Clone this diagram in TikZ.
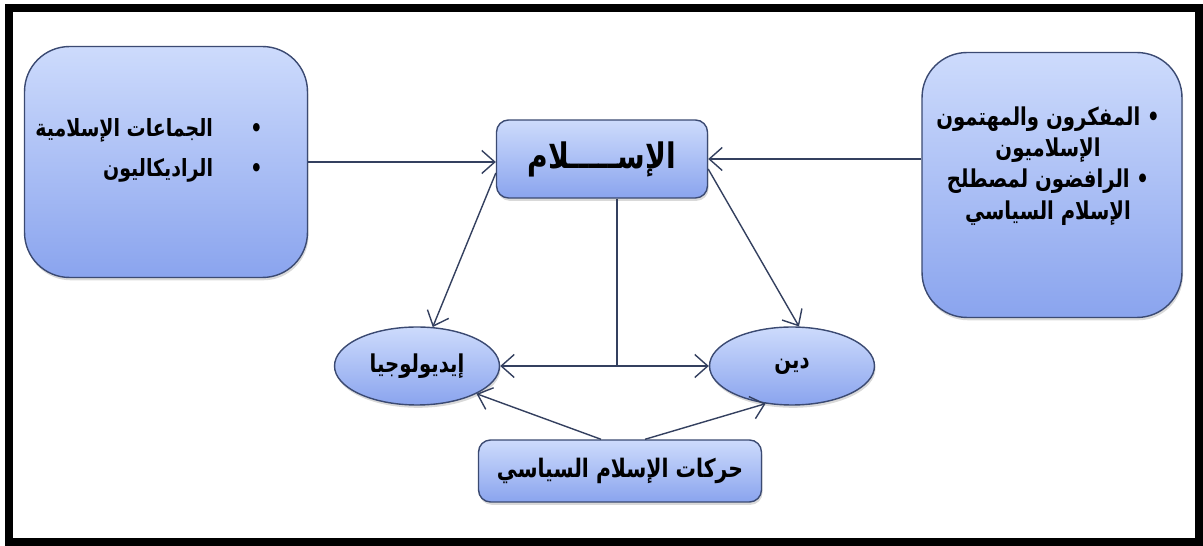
\documentclass[tikz,border=0pt]{standalone}
\usepackage{fontspec}
\usetikzlibrary{shapes.geometric,arrows.meta,shadows}
\newfontfamily\arabicfont[Script=Arabic,FakeStretch=0.8]{DejaVu Sans Bold}
\TeXXeTstate=1
\newcommand\artext[1]{\beginR#1\endR}
\definecolor{edgeblue}{HTML}{3B4A72}
\definecolor{lineblue}{HTML}{34405F}
\definecolor{toplight}{HTML}{CDDBFC}
\definecolor{botdark}{HTML}{8AA4EE}

\begin{document}
\begin{tikzpicture}[x=0.02cm,y=-0.02cm,
  >={Straight Barb[length=2.6mm,width=4.6mm]},
  shade/.style={draw=edgeblue,thick,top color=toplight,bottom color=botdark,
    drop shadow={opacity=0.3,shadow xshift=0.6pt,shadow yshift=-1.6pt}},
  bigbox/.style={shade,rectangle,rounded corners=0.9cm,minimum width=5.4cm},
  smallbox/.style={shade,rectangle,rounded corners=0.24cm},
  oval/.style={shade,ellipse,inner sep=0pt,minimum width=3.3cm,minimum height=1.56cm,
    font=\arabicfont\fontsize{14}{18}\selectfont},
  words/.style={inner sep=0pt},
  link/.style={lineblue,thick}]
\useasboundingbox (0,0) rectangle (1203,546);
\draw[line width=0.16cm] (9,8.5) rectangle (1199,542);

\node[bigbox,minimum width=5.66cm,minimum height=4.62cm] (groups) at (166,162) {};
\node[words,anchor=east,align=right,font=\arabicfont\fontsize{13.5}{17}\selectfont]
  (groupstext) at (263,150)
  {\artext{\textbullet\hspace{0.75cm}الجماعات الإسلامية}\\[0.2cm]
   \artext{\textbullet\hspace{0.75cm}الراديكاليون}};

\node[bigbox,minimum width=5.2cm,minimum height=5.3cm] (thinkers) at (1052,185) {};
\node[words,align=center,font=\arabicfont\fontsize{14}{17.8}\selectfont]
  (thinkerstext) at (1048,166)
  {\artext{\textbullet\ المفكرون والمهتمون}\\
   \artext{الإسلاميون}\\
   \artext{\textbullet\ الرافضون لمصطلح}\\
   \artext{الإسلام السياسي}};

\node[smallbox,minimum width=4.22cm,minimum height=1.56cm,font=\arabicfont\fontsize{20}{24}\selectfont]
  (islam) at (602,159) {\artext{الإســـــلام}};
\node[oval] (ideology) at (417,366) {\artext{إيديولوجيا}};
\node[oval] (religion) at (792,366) {\artext{دين}};
\node[smallbox,minimum width=5.66cm,minimum height=1.24cm,font=\arabicfont\fontsize{14.5}{17}\selectfont]
  (movements) at (620,471) {\artext{حركات الإسلام السياسي}};

\draw[link,->] (groups.east) -- (groups.east -| islam.west);
\draw[link,->] (thinkers.west |- islam.east) -- (islam.east);
\draw[link,->] ([yshift=-0.28cm]islam.west) -- (ideology.68);
\draw[link,->] ([yshift=-0.2cm]islam.east) -- (religion.80);
\draw[link] ([xshift=0.3cm]islam.south) -- ([xshift=0.3cm]islam.south |- ideology.east);
\draw[link,<->] (ideology.east) -- (religion.west);
\draw[link,->] ([xshift=-0.38cm]movements.north) -- (ideology.-25);
\draw[link,->] ([xshift=0.5cm]movements.north) -- (religion.-125);
\end{tikzpicture}
\end{document}
